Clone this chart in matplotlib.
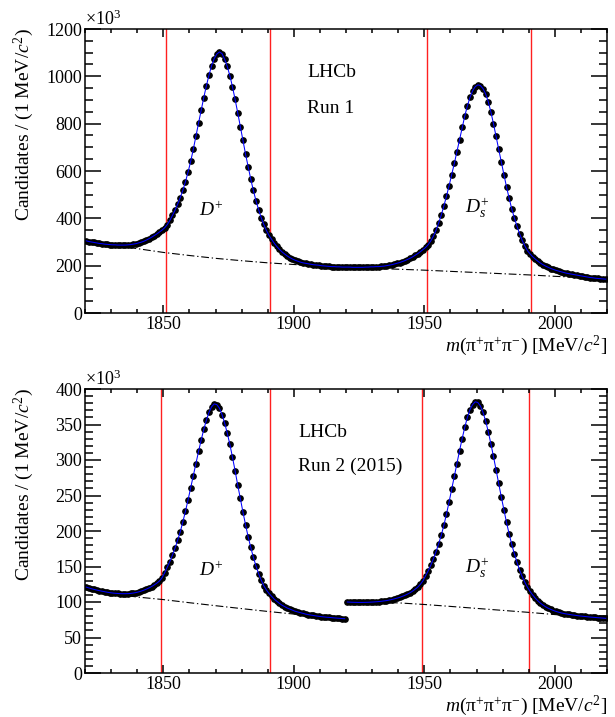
import numpy as np
import matplotlib
matplotlib.use("Agg")
import matplotlib.pyplot as plt
from matplotlib.ticker import MultipleLocator

plt.rcParams['font.family'] = ['Liberation Serif', 'DejaVu Serif']
plt.rcParams['mathtext.fontset'] = 'custom'
plt.rcParams['mathtext.rm'] = 'Liberation Serif'
plt.rcParams['mathtext.it'] = 'Liberation Serif:italic'
plt.rcParams['mathtext.bf'] = 'Liberation Serif:bold'

# ---------------- data (bin centres, 1 MeV bins) ----------------
mass_bins = np.arange(1820.5, 2020.0, 1.0)

# Run 1 candidates (x10^3) per bin, 1820.5 ... 2019.5
run1_counts = [
    305, 302, 300, 298, 296, 294, 293, 291, 290, 289,
    288, 288, 287, 287, 287, 287, 288, 289, 291, 293,
    296, 299, 303, 308, 314, 320, 327, 334, 342, 350,
    360, 373, 391, 412, 435, 460, 488, 519, 555, 596,
    641, 692, 746, 802, 857, 910, 960, 1005, 1045, 1075,
    1094, 1103, 1096, 1072, 1042, 1003, 956, 903, 847, 788,
    729, 672, 618, 566, 518, 475, 437, 403, 374, 349,
    328, 311, 295, 281, 269, 258, 249, 241, 234, 228,
    223, 219, 215, 212, 210, 208, 206, 204, 203, 202,
    200, 199, 198, 197, 196, 196, 195, 195, 194, 194,
    194, 194, 193, 193, 193, 193, 193, 194, 194, 195,
    195, 196, 196, 197, 198, 200, 202, 204, 207, 210,
    213, 217, 221, 226, 231, 237, 244, 251, 259, 268,
    277, 289, 305, 325, 350, 380, 414, 452, 494, 538,
    584, 632, 682, 733, 784, 832, 875, 911, 939, 956,
    964, 961, 948, 926, 893, 850, 800, 747, 692, 638,
    585, 533, 485, 440, 402, 367, 335, 307, 284, 264,
    250, 238, 228, 219, 211, 204, 198, 193, 188, 184,
    180, 177, 174, 171, 168, 166, 164, 162, 160, 158,
    156, 154, 152, 150, 149, 147, 146, 145, 144, 143,
]

# Run 1 background component, sampled every 10 MeV
run1_bkg_mass = [1820, 1830, 1840, 1850, 1860, 1870, 1880, 1890, 1900, 1910,
                 1920, 1930, 1940, 1950, 1960, 1970, 1980, 1990, 2000, 2010, 2020]
run1_bkg = [305, 287, 272, 256, 243, 231, 221, 212, 205, 199,
            193, 189, 185, 181, 176, 171, 166, 161, 155, 150, 143]

# Run 2 (2015) candidates (x10^3): D+ window 1820.5..1919.5, Ds window 1920.5..2019.5
run2_counts_dp = [
    121, 119.8, 118.7, 117.7, 116.8, 116, 115.2, 114.5, 113.8, 113.2,
    112.7, 112.3, 112, 111.8, 111.7, 111.7, 111.8, 112.1, 112.6, 113.3,
    114.2, 115.3, 116.6, 118.1, 119.8, 121.8, 124, 126.5, 129.5, 134,
    141, 149, 157, 166, 176, 187, 199, 213, 228, 244,
    261, 278, 295, 312, 328, 343, 356, 367, 375, 379,
    378, 373, 364, 352, 338, 322, 304, 285, 265, 246,
    227, 209, 192, 177, 163, 151, 140, 131, 123, 117,
    112, 108, 104, 101, 98, 95.5, 93.5, 91.5, 90, 88.5,
    87, 86, 85, 84, 83, 82.3, 81.6, 81, 80.4, 79.9,
    79.4, 79, 78.6, 78.3, 78, 77.6, 77.3, 77, 76.7, 76.4,
]
run2_counts_ds = [
    100, 99.8, 99.6, 99.5, 99.4, 99.4, 99.4, 99.5, 99.6, 99.8,
    100, 100.3, 100.6, 101, 101.5, 102, 102.7, 103.5, 104.4, 105.4,
    106.5, 107.8, 109.3, 111, 113, 115.3, 118, 121, 125, 130,
    137, 144, 152, 161, 171, 182, 194, 208, 224, 241,
    259, 277, 295, 313, 330, 346, 360, 371, 378, 382,
    381, 376, 367, 355, 340, 323, 305, 286, 267, 248,
    230, 212, 196, 181, 168, 156, 145, 136, 128, 121,
    115, 110, 105.5, 101.7, 98.4, 95.6, 93.2, 91.2, 89.5, 88,
    86.7, 85.6, 84.6, 83.8, 83.1, 82.5, 81.9, 81.4, 80.9, 80.4,
    80, 79.6, 79.2, 78.8, 78.5, 78.2, 77.9, 77.6, 77.3, 77,
]
run2_bkg_mass_dp = [1820, 1830, 1840, 1850, 1860, 1870, 1880, 1890, 1900, 1910, 1920]
run2_bkg_dp = [120.5, 112, 107, 103.4, 99, 94.8, 90.7, 86.7, 83, 79, 76.2]
run2_bkg_mass_ds = [1920, 1930, 1940, 1950, 1960, 1970, 1980, 1990, 2000, 2010, 2020]
run2_bkg_ds = [100, 99.6, 98.8, 96.5, 93.8, 91, 88.2, 85.4, 82.3, 79.3, 76.5]

# selection windows
run1_windows = [1851, 1891, 1951, 1991]
run2_windows = [1849, 1891, 1949, 1990]

# ---------------- figure ----------------
W, H = 615, 717
fig = plt.figure(figsize=(W / 100, H / 100), dpi=100)

def fx(px):
    return px / W

def fy(py):
    return 1 - py / H

ax1 = fig.add_axes([fx(85), fy(313), fx(607) - fx(85), fy(29) - fy(313)])
ax2 = fig.add_axes([fx(85), fy(673), fx(607) - fx(85), fy(389) - fy(673)])

FS = 14
TFS = 13

def style(ax, ymax, ymaj, ymin):
    ax.set_xlim(1820, 2020)
    ax.set_ylim(0, ymax)
    ax.xaxis.set_major_locator(MultipleLocator(50))
    ax.xaxis.set_minor_locator(MultipleLocator(10))
    ax.yaxis.set_major_locator(MultipleLocator(ymaj))
    ax.yaxis.set_minor_locator(MultipleLocator(ymin))
    ax.tick_params(axis='both', which='both', direction='in', top=True, right=True,
                   width=1.1, labelsize=TFS)
    ax.tick_params(axis='y', which='major', length=11.5, pad=2)
    ax.tick_params(axis='y', which='minor', length=5.8)
    ax.tick_params(axis='x', which='major', length=6, pad=2.5)
    ax.tick_params(axis='x', which='minor', length=3)
    for s in ax.spines.values():
        s.set_linewidth(1.1)

mass = list(mass_bins)
DASHDOT = (0, (7, 2.5, 1.2, 2.5))

# Run 1
for w in run1_windows:
    ax1.axvline(w, color='#ff2020', lw=1.0, zorder=1)
ax1.plot(run1_bkg_mass, run1_bkg, color='black', lw=0.8, ls=DASHDOT, zorder=2)
ax1.plot(mass, run1_counts, 'o', color='black', ms=3.8, zorder=3)
ax1.plot(mass, run1_counts, '-', color='#0000ff', lw=0.75, zorder=4)
style(ax1, 1200, 200, 50)

# Run 2
for w in run2_windows:
    ax2.axvline(w, color='#ff2020', lw=1.0, zorder=1)
ax2.plot(run2_bkg_mass_dp, run2_bkg_dp, color='black', lw=0.8, ls=DASHDOT, zorder=2)
ax2.plot(run2_bkg_mass_ds, run2_bkg_ds, color='black', lw=0.8, ls=DASHDOT, zorder=2)
m_dp = mass[:100]
m_ds = mass[100:]
ax2.plot(m_dp, run2_counts_dp, 'o', color='black', ms=3.8, zorder=3)
ax2.plot(m_ds, run2_counts_ds, 'o', color='black', ms=3.8, zorder=3)
ax2.plot(m_dp, run2_counts_dp, '-', color='#0000ff', lw=0.75, zorder=4)
ax2.plot(m_ds, run2_counts_ds, '-', color='#0000ff', lw=0.75, zorder=4)
style(ax2, 400, 50, 10)

# texts
ylab = 'Candidates / (1 MeV/$c^{2}$)'
xlab = '$m$(π$^{+}$π$^{+}$π$^{-}$) [MeV/$c^{2}$]'
fig.text(fx(24), fy(28), ylab, rotation=90, ha='center', va='top', fontsize=FS)
fig.text(fx(24), fy(388), ylab, rotation=90, ha='center', va='top', fontsize=FS)
fig.text(fx(607), fy(351), xlab, ha='right', va='baseline', fontsize=FS)
fig.text(fx(607), fy(711), xlab, ha='right', va='baseline', fontsize=FS)
fig.text(fx(85), fy(25), '×10$^{3}$', ha='left', va='baseline', fontsize=TFS)
fig.text(fx(85), fy(385), '×10$^{3}$', ha='left', va='baseline', fontsize=TFS)

fig.text(fx(307), fy(77), 'LHCb', ha='left', va='baseline', fontsize=FS)
fig.text(fx(307), fy(113), 'Run 1', ha='left', va='baseline', fontsize=FS)
fig.text(fx(298), fy(437), 'LHCb', ha='left', va='baseline', fontsize=FS)
fig.text(fx(298), fy(471), 'Run 2 (2015)', ha='left', va='baseline', fontsize=FS)

fig.text(fx(199), fy(216), '$D^{+}$', ha='left', va='baseline', fontsize=FS)
fig.text(fx(465), fy(214), '$D_{s}^{+}$', ha='left', va='baseline', fontsize=FS)
fig.text(fx(199), fy(576), '$D^{+}$', ha='left', va='baseline', fontsize=FS)
fig.text(fx(465), fy(574), '$D_{s}^{+}$', ha='left', va='baseline', fontsize=FS)

fig.savefig('out.png', dpi=100)
